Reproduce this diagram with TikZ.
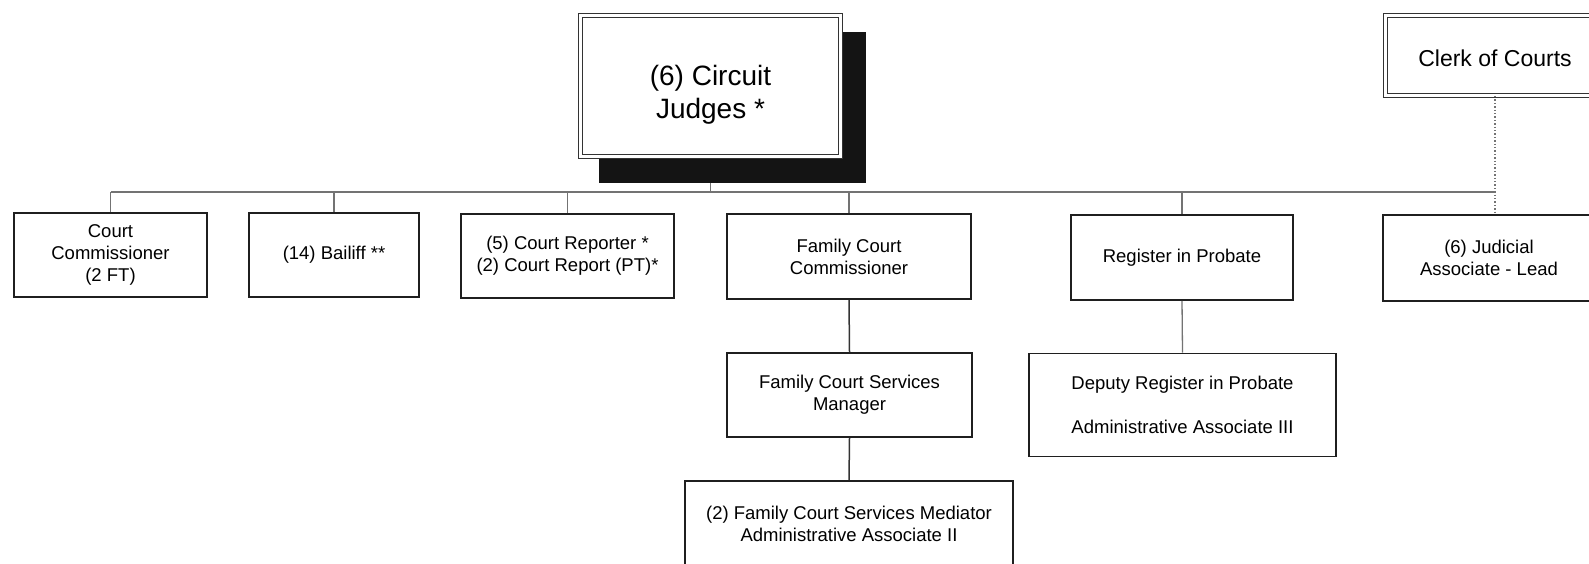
\documentclass[tikz,border=0pt]{standalone}
\usepackage{fontspec}
\setmainfont{Liberation Sans}
\begin{document}
\begin{tikzpicture}[x=1pt,y=-1pt,
  box/.style={draw=black!88, line width=1.6pt, fill=white, inner sep=0pt,
    align=center, font=\fontsize{18.5}{22}\selectfont},
  dbox/.style={draw=black!80, line width=1.1pt, double=white, double distance=2.6pt,
    fill=white, inner sep=0pt, align=center},
  shadowbox/.style={fill=black!92, draw=none, inner sep=0pt},
  link/.style={draw=black!55, line width=1.3pt},
  strong/.style={draw=black!80, line width=1.5pt},
  dotlink/.style={draw=black!55, line width=1.4pt, dotted}
]
\useasboundingbox (0,0) rectangle (1589,563);

% top level
\node[shadowbox, minimum width=267pt, minimum height=151pt] (jshadow) at (732.5,107.5) {};
\node[dbox, minimum width=260pt, minimum height=141pt,
  label={[align=center, font=\fontsize{28}{33}\selectfont, yshift=-8.5pt]center:(6) Circuit\\Judges *}]
  (judges) at (710.5,86) {};
\node[dbox, minimum width=219pt, minimum height=80pt,
  label={[font=\fontsize{23}{27}\selectfont, yshift=-3pt]center:Clerk of Courts}]
  (clerk) at (1495,55.5) {};

% second row
\node[box, minimum width=193pt, minimum height=84pt] (cc) at (110.5,255) {Court\\Commissioner\\(2 FT)};
\node[box, minimum width=170pt, minimum height=84pt] (bailiff) at (334,255) {(14) Bailiff **};
\node[box, minimum width=213pt, minimum height=84pt] (reporter) at (567.5,256)
  {(5) Court Reporter *\\(2) Court Report (PT)*};
\node[box, minimum width=244pt, minimum height=85pt] (fcc) at (849,256.5) {Family Court\\Commissioner};
\node[box, minimum width=222pt, minimum height=85pt] (rip) at (1182,257.5) {Register in Probate};
\node[box, minimum width=212pt, minimum height=86pt] (jal) at (1489,258) {(6) Judicial\\Associate - Lead};

% lower rows
\node[box, minimum width=245pt, minimum height=84pt] (fcsm) at (849.5,395) {Family Court Services\\Manager};
\node[box, minimum width=307pt, minimum height=103pt] (drp) at (1182.5,405)
  {Deputy Register in Probate\\[22pt]Administrative Associate III};
\node[box, minimum width=328pt, minimum height=85pt] (med) at (849,523.5)
  {(2) Family Court Services Mediator\\Administrative Associate II};

% reporting lines
\coordinate (bus) at (0,192);
\draw[link] (judges.south |- jshadow.south) -- (judges.south |- bus);
\draw[link] (cc.north |- bus) -- (clerk.south |- bus);
\foreach \n in {cc,bailiff,reporter,fcc,rip}
  \draw[link] (\n.north) -- (\n.north |- bus);
\draw[dotlink] (clerk.south) -- (clerk.south |- jal.north);
\draw[strong] (fcc.south) -- (fcsm.north);
\draw[strong] (fcsm.south) -- (med.north);
\draw[link] (rip.south) -- (drp.north);
\end{tikzpicture}
\end{document}
